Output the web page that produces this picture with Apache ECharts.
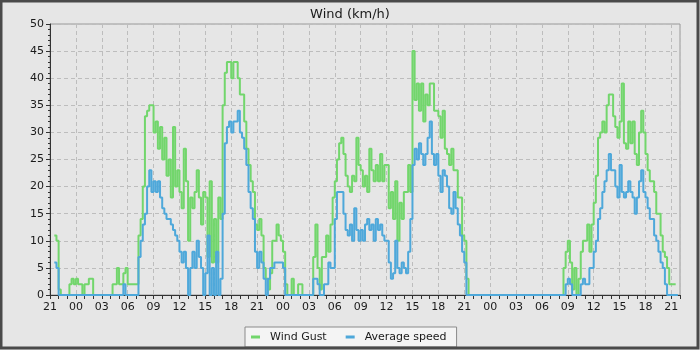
<!DOCTYPE html>
<html>
<head>
<meta charset="utf-8">
<script src="https://cdn.jsdelivr.net/npm/echarts@6/dist/echarts.min.js"></script>
<style>
  html, body { margin: 0; padding: 0; background: #e6e6e6; }
  #chart { width: 700px; height: 350px; }
</style>
</head>
<body>
<div id="chart"></div>
<script>
// Samples every 15 minutes, starting at 21:00 on day 0
const START_CLOCK_HOUR = 21;
const SAMPLE_HOURS = 0.25;
const X_MAX_HOURS = 73;
const TITLE = 'Wind (km/h)';
const SERIES_NAMES = ['Wind Gust', 'Average speed'];

const GUST = [
  null, null, 11, 10, 1, 0, 0, 0, 0, 2, 3, 2,
  3, 2, 2, 0, 2, 2, 3, 3, 0, 0, 0, 0,
  0, 0, 0, 0, 0, 2, 2, 5, 2, 2, 4, 5,
  2, 2, 2, 2, 2, 11, 14, 20, 33, 34, 35, 35,
  30, 32, 27, 31, 25, 29, 22, 25, 18, 31, 20, 23,
  19, 16, 27, 21, 10, 18, 16, 19, 23, 18, 13, 19,
  18, 7, 21, 6, 14, 6, 18, 14, 35, 41, 43, 43,
  40, 43, 43, 40, 37, 37, 32, 27, 24, 21, 19, 13,
  12, 14, 11, 5, 3, 1, 4, 10, 10, 13, 11, 10,
  8, 2, 0, 0, 3, 0, 0, 2, 2, 0, 0, 0,
  0, 0, 7, 13, 5, 1, 7, 7, 11, 8, 13, 18,
  21, 25, 28, 29, 26, 22, 20, 19, 22, 21, 29, 24,
  23, 20, 22, 19, 27, 23, 21, 24, 21, 26, 21, 24,
  24, 16, 19, 14, 21, 10, 17, 14, 19, 19, 24, 19,
  45, 36, 39, 34, 39, 32, 37, 35, 39, 39, 34, 34,
  33, 29, 34, 27, 26, 24, 27, 23, 23, 18, 18, 11,
  10, 3, 0, 0, 0, 0, 0, 0, 0, 0, 0, 0,
  0, 0, 0, 0, 0, 0, 0, 0, 0, 0, 0, 0,
  0, 0, 0, 0, 0, 0, 0, 0, 0, 0, 0, 0,
  0, 0, 0, 0, 0, 0, 0, 0, 0, 0, 5, 8,
  10, 6, 1, 5, 0, 3, 8, 10, 10, 13, 8, 13,
  17, 22, 29, 30, 32, 30, 35, 37, 37, 33, 31, 29,
  32, 39, 28, 27, 32, 28, 32, 26, 24, 30, 34, 30,
  26, 23, 21, 21, 19, 15, 15, 11, 8, 7, 5, 2,
  2, 2, null, null
];

const AVG = [
  null, null, 6, 5, 0, 0, 0, 0, 0, 0, 0, 0,
  0, 0, 0, 0, 0, 0, 0, 0, 0, 0, 0, 0,
  0, 0, 0, 0, 0, 0, 0, 0, 0, 0, 2, 0,
  0, 0, 0, 0, 0, 7, 10, 13, 15, 20, 23, 19,
  21, 19, 21, 18, 16, 15, 14, 14, 13, 12, 11, 10,
  8, 6, 8, 5, 0, 5, 8, 5, 10, 7, 5, 0,
  4, 11, 0, 5, 0, 8, 0, 3, 15, 28, 31, 32,
  30, 32, 32, 34, 30, 29, 27, 24, 19, 16, 14, 8,
  5, 8, 6, 3, 0, 3, 5, 5, 6, 6, 6, 6,
  5, 0, 0, 0, 0, 0, 0, 0, 0, 0, 0, 0,
  0, 0, 3, 3, 2, 0, 0, 2, 2, 6, 5, 5,
  14, 19, 19, 19, 15, 12, 11, 13, 10, 16, 12, 10,
  12, 10, 13, 14, 12, 13, 10, 14, 12, 13, 11, 10,
  10, 6, 3, 4, 10, 5, 4, 6, 5, 4, 8, 14,
  24, 27, 25, 28, 26, 24, 26, 29, 32, 26, 24, 26,
  22, 19, 23, 22, 20, 16, 15, 19, 16, 13, 11, 8,
  6, 0, 0, 0, 0, 0, 0, 0, 0, 0, 0, 0,
  0, 0, 0, 0, 0, 0, 0, 0, 0, 0, 0, 0,
  0, 0, 0, 0, 0, 0, 0, 0, 0, 0, 0, 0,
  0, 0, 0, 0, 0, 0, 0, 0, 0, 0, 0, 2,
  3, 2, 0, 0, 0, 0, 2, 3, 2, 2, 5, 5,
  8, 10, 14, 16, 19, 21, 23, 26, 23, 23, 20, 18,
  24, 19, 18, 19, 21, 19, 18, 15, 18, 21, 23, 19,
  18, 16, 14, 14, 11, 10, 8, 6, 5, 2, 0, 0,
  0, 0, 0, 0
];

const toPoints = arr => arr.map((v, i) => [i * SAMPLE_HOURS, v]);
const clockLabel = v => String((START_CLOCK_HOUR + Math.round(v)) % 24).padStart(2, '0');

const FONT = 'DejaVu Sans';
const chart = echarts.init(document.getElementById('chart'), null, { renderer: 'canvas' });
chart.setOption({
  animation: false,
  backgroundColor: '#e6e6e6',
  title: {
    text: TITLE, left: 'center', top: 3,
    textStyle: { fontFamily: FONT, fontSize: 13, fontWeight: 'normal', color: '#1a1a1a' }
  },
  legend: {
    data: SERIES_NAMES,
    left: 245, top: 327,
    icon: 'rect', itemWidth: 9, itemHeight: 3, itemGap: 19,
    padding: [4, 10, 4, 6],
    backgroundColor: '#f4f4f4', borderColor: '#8a8a8a', borderWidth: 1,
    textStyle: { fontFamily: FONT, fontSize: 11, color: '#1a1a1a', lineHeight: 12, padding: [0, 0, 0, 5] }
  },
  grid: {
    left: 50, right: 20, top: 24, bottom: 55,
    show: true, backgroundColor: '#e6e6e6', borderColor: '#9a9a9a', borderWidth: 1
  },
  xAxis: [
    {
      type: 'value', min: 0, max: X_MAX_HOURS, interval: 1, position: 'bottom',
      axisLine: { show: true, lineStyle: { color: '#333', width: 1 } },
      axisTick: { show: true, length: 4, lineStyle: { color: '#333' } },
      axisLabel: { show: false },
      splitLine: { show: false }
    },
    {
      type: 'value', min: 0, max: X_MAX_HOURS, interval: 3, position: 'bottom',
      axisLine: { show: false }, axisTick: { show: false },
      axisLabel: {
        show: true, showMaxLabel: false, margin: 7, formatter: clockLabel,
        fontFamily: FONT, fontSize: 11, color: '#1a1a1a'
      },
      splitLine: { show: true, lineStyle: { color: '#bdbdbd', type: [4, 3], width: 1 } }
    }
  ],
  yAxis: {
    type: 'value', min: 0, max: 50, interval: 5,
    axisLine: { show: true, lineStyle: { color: '#333', width: 1 } },
    axisTick: { show: true, length: 4, lineStyle: { color: '#333' } },
    minorTick: { show: true, splitNumber: 5, length: 2, lineStyle: { color: '#333' } },
    axisLabel: { margin: 6, fontFamily: FONT, fontSize: 11, color: '#1a1a1a' },
    splitLine: { show: true, lineStyle: { color: '#bdbdbd', type: [4, 3], width: 1 } }
  },
  series: [
    {
      name: SERIES_NAMES[0], type: 'line', step: 'end', xAxisIndex: 0,
      data: toPoints(GUST), showSymbol: false, connectNulls: false,
      lineStyle: { width: 2, color: '#72d66c' }, itemStyle: { color: '#72d66c' }
    },
    {
      name: SERIES_NAMES[1], type: 'line', step: 'end', xAxisIndex: 0,
      data: toPoints(AVG), showSymbol: false, connectNulls: false,
      lineStyle: { width: 2, color: '#4ea8da' }, itemStyle: { color: '#4ea8da' }
    }
  ],
  graphic: [{
    type: 'rect', silent: true, z: 100,
    shape: { x: 1, y: 1, width: 697, height: 347 },
    style: { fill: 'none', stroke: '#4a4a4a', lineWidth: 3 }
  }]
});
</script>
</body>
</html>
